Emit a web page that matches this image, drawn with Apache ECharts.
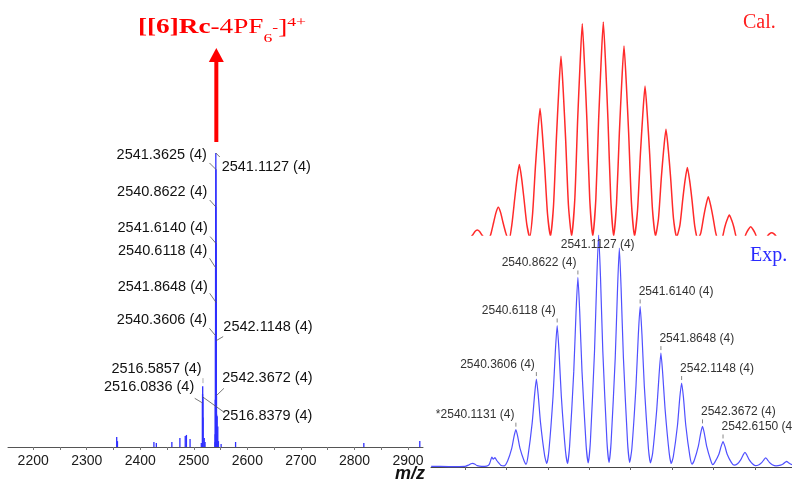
<!DOCTYPE html>
<html><head><meta charset="utf-8">
<script src="https://cdn.jsdelivr.net/npm/echarts@6/dist/echarts.min.js"></script>
<style>html,body{margin:0;padding:0;background:#fff}#c{width:792px;height:480px}</style>
</head><body><div id="c"></div>
<script>
// ================= DATA =================
// Left overview spectrum: x-axis ticks
const leftTickLabels = [2200, 2300, 2400, 2500, 2600, 2700, 2800, 2900];
const leftTickMarks = [2200, 2250, 2300, 2350, 2400, 2450, 2500, 2550, 2600, 2650, 2700, 2750, 2800, 2850, 2900];
// Left overview spectrum: minor sticks (m/z, relative intensity %)
const otherStickMz  = [2356.0, 2357.4, 2425.5, 2430.0, 2459.0, 2474.0, 2484.0, 2486.2, 2493.0, 2514.0, 2516.0836, 2516.3350, 2516.5857, 2516.8379, 2517.09, 2519.5, 2521.0, 2543.6, 2544.8, 2546.0, 2551.0, 2578.0, 2817.5, 2922.0];
const otherStickInt = [3.4, 2.0, 1.7, 1.4, 1.7, 3.1, 3.7, 4.1, 2.7, 1.4, 15, 18, 20.7, 17, 10, 3.1, 1.7, 10.5, 7, 2.0, 1.0, 1.7, 1.4, 2.0];
// Isotope cluster of [[6]Rc-4PF6]4+ (experimental centroids)
const expPeakMz  = [2539.592, 2539.822, 2540.1131, 2540.3606, 2540.6118, 2540.8622, 2541.1127, 2541.3625, 2541.6140, 2541.8648, 2542.1148, 2542.3672, 2542.6150, 2542.880, 2543.130, 2543.384];
const expPeakInt = [1.6, 4.3, 16.1, 37.9, 61.0, 81.7, 100, 94.4, 69.2, 49.1, 36.2, 17.5, 11.0, 6.3, 3.9, 2.4];

// Left panel annotations
const leftLabelText = ['2541.3625 (4)', '2540.8622 (4)', '2541.6140 (4)', '2540.6118 (4)', '2541.8648 (4)', '2540.3606 (4)', '2541.1127 (4)', '2542.1148 (4)', '2542.3672 (4)', '2516.5857 (4)', '2516.0836 (4)', '2516.8379 (4)'];
const leftLabelMz   = [2541.3625, 2540.8622, 2541.6140, 2540.6118, 2541.8648, 2540.3606, 2541.1127, 2542.1148, 2542.3672, 2516.5857, 2516.0836, 2516.8379];
const leftLabelInt  = [94.4, 81.7, 69.2, 61.0, 49.1, 37.9, 100, 36.2, 17.5, 20.7, 15, 17];

// Right (zoomed) panel annotations
const expLabelText = ['*2540.1131 (4)', '2540.3606 (4)', '2540.6118 (4)', '2540.8622 (4)', '2541.1127 (4)', '2541.6140 (4)', '2541.8648 (4)', '2542.1148 (4)', '2542.3672 (4)', '2542.6150 (4)'];
const expLabelMz   = [2540.1131, 2540.3606, 2540.6118, 2540.8622, 2541.1127, 2541.6140, 2541.8648, 2542.1148, 2542.3672, 2542.6150];
const expLabelInt  = [16.1, 37.9, 61.0, 81.7, 100, 69.2, 49.1, 36.2, 17.5, 11.0];
const expTicks = [2539.5, 2540.0, 2540.5, 2541.0, 2541.5, 2542.0, 2542.5, 2543.0];

// Experimental profile (m/z, relative intensity %)
const expProfile = [
[2539.09,0.3],[2539.30,0.2],[2539.50,0.3],[2539.54,0.8],[2539.57,1.4],[2539.592,1.6],[2539.615,1.3],[2539.645,0.6],[2539.70,0.3],
[2539.76,0.4],[2539.79,1.0],[2539.81,3.0],[2539.822,4.3],[2539.84,3.4],[2539.86,4.0],[2539.882,2.8],[2539.90,2.0],[2539.93,0.8],[2539.97,0.5],
[2540.013,2.6],[2540.063,8.0],[2540.091,13.2],[2540.1131,16.1],[2540.135,13.2],[2540.163,8.0],[2540.213,2.6],[2540.237,1.2],
[2540.26,4.8],[2540.31,19.0],[2540.339,31.0],[2540.3606,37.9],[2540.383,31.0],[2540.411,19.0],[2540.461,4.8],[2540.486,1.5],
[2540.512,7.0],[2540.562,30.5],[2540.590,50.0],[2540.6118,61.0],[2540.634,50.0],[2540.662,30.5],[2540.712,7.0],[2540.737,1.5],
[2540.762,9.0],[2540.812,41.0],[2540.840,67.0],[2540.8622,81.7],[2540.884,67.0],[2540.912,41.0],[2540.962,9.0],[2540.987,1.8],
[2541.013,11.0],[2541.063,50.0],[2541.091,82.0],[2541.1127,100],[2541.135,82.0],[2541.163,50.0],[2541.213,11.0],[2541.238,2.0],
[2541.263,10.5],[2541.313,47.0],[2541.341,77.0],[2541.3625,94.4],[2541.384,77.0],[2541.412,47.0],[2541.462,10.5],[2541.488,2.0],
[2541.514,8.0],[2541.564,35.0],[2541.592,57.0],[2541.614,69.2],[2541.636,57.0],[2541.664,35.0],[2541.714,8.0],[2541.739,1.8],
[2541.765,6.0],[2541.815,25.0],[2541.843,40.0],[2541.8648,49.1],[2541.887,40.0],[2541.915,25.0],[2541.965,6.0],[2541.990,1.5],
[2542.015,4.6],[2542.065,18.0],[2542.093,30.0],[2542.1148,36.2],[2542.137,30.0],[2542.165,18.0],[2542.215,4.6],[2542.241,1.2],
[2542.267,2.8],[2542.317,9.0],[2542.345,14.5],[2542.3672,17.5],[2542.389,14.5],[2542.417,9.0],[2542.467,2.8],[2542.491,1.0],
[2542.515,2.0],[2542.565,5.5],[2542.593,9.0],[2542.615,11.0],[2542.637,9.0],[2542.665,5.5],[2542.715,2.0],[2542.748,0.8],
[2542.79,1.4],[2542.83,3.2],[2542.858,5.2],[2542.88,6.3],[2542.902,5.2],[2542.93,3.2],[2542.97,1.4],[2543.005,0.6],
[2543.05,1.0],[2543.085,2.0],[2543.11,3.2],[2543.13,3.9],[2543.15,3.2],[2543.175,2.0],[2543.21,1.0],[2543.255,0.5],
[2543.31,0.8],[2543.34,1.3],[2543.365,2.0],[2543.384,2.4],[2543.40,2.0],[2543.43,1.3],[2543.448,1.0]
];

// Calculated profile (m/z, relative intensity %)
const calProfile = [
[2539.09,-4],[2539.52,-3],[2539.557,-1.5],[2539.591,0.0],[2539.619,1.6],[2539.647,2.3],[2539.675,1.6],[2539.703,0.0],[2539.737,-1.5],[2539.774,-2.5],
[2539.811,0.5],[2539.845,6.0],[2539.873,10.5],[2539.901,13.0],[2539.929,10.5],[2539.957,6.0],[2539.991,1.0],[2540.028,-3],
[2540.065,5],[2540.099,17],[2540.127,26.5],[2540.155,33.1],[2540.183,26.5],[2540.211,17],[2540.245,5],[2540.28,-1],
[2540.315,10],[2540.349,32],[2540.377,47.5],[2540.405,59.4],[2540.433,47.5],[2540.461,32],[2540.495,10],[2540.531,-0.5],
[2540.568,14],[2540.602,45],[2540.63,67],[2540.658,83.9],[2540.686,67],[2540.714,45],[2540.748,14],[2540.786,-0.5],
[2540.825,17],[2540.859,54],[2540.887,79],[2540.915,99.2],[2540.943,79],[2540.971,54],[2541.005,17],[2541.042,-0.5],
[2541.079,17],[2541.113,54.5],[2541.141,80],[2541.169,100],[2541.197,80],[2541.225,54.5],[2541.259,17],[2541.294,-0.5],
[2541.329,15],[2541.363,48],[2541.391,71],[2541.419,88.7],[2541.447,71],[2541.475,48],[2541.509,15],[2541.546,-0.5],
[2541.583,12],[2541.617,38],[2541.645,56],[2541.673,69.9],[2541.701,56],[2541.729,38],[2541.763,12],[2541.80,-0.5],
[2541.836,8],[2541.87,27],[2541.898,40],[2541.926,49.6],[2541.954,40],[2541.982,27],[2542.016,8],[2542.055,-1],
[2542.094,4.5],[2542.128,16.5],[2542.156,25.5],[2542.184,31.7],[2542.212,25.5],[2542.24,16.5],[2542.274,4],[2542.31,-2],
[2542.347,1],[2542.381,8.5],[2542.409,14],[2542.437,18],[2542.465,14],[2542.493,8.5],[2542.527,1],[2542.564,-3],
[2542.601,-2],[2542.635,3.5],[2542.663,7],[2542.691,9.4],[2542.719,7],[2542.747,3.5],[2542.781,-2],[2542.82,-4],
[2542.859,-3],[2542.893,0.6],[2542.921,2.6],[2542.949,3.9],[2542.977,2.6],[2543.005,0.6],[2543.039,-3],[2543.076,-4],
[2543.113,-3],[2543.147,-0.8],[2543.175,0.5],[2543.203,1.1],[2543.231,0.5],[2543.259,-0.8],[2543.293,-3],[2543.448,-4]
];

// ================= LAYOUT (pixel offsets, not data) =================
// [textDx, textDy, align, leaderStartDx, leaderStartDy, leaderEndDx, leaderEndDy]
const leftLayout = [
 [-9.1,-14.5,'right',0,0,-6.5,-6.5],
 [-8.3,-15.1,'right',0,0,-6,-6.8],
 [-8.3,-15.3,'right',0,0,-6,-7],
 [-8.3,-16.7,'right',0,0,-6,-9.4],
 [-8.3,-15.9,'right',0,0,-6.5,-9.3],
 [-8.3,-15.6,'right',0,0,-6,-7.3],
 [5.8,14.3,'left',0,0,4,4],
 [7.0,-13.3,'left',0,0,6.8,-4],
 [5.8,-17.2,'left',0,0,7.4,-7.2],
 [-1,-16.7,'right',0.3,-8,0.3,-3],
 [-8.2,-15.6,'right',0,0,-7.7,-4.6],
 [19.3,19,'left',0,0,20.5,14.7]
];
// [align, dx, dy, showTick]
const expLayout = [
 ['right',-1.5,-14.5,true],['right',-1.5,-14.5,true],['right',-1.5,-14.5,true],['right',-1.5,-14.5,true],
 ['center',-1,10,false],
 ['left',-1.5,-14.5,true],['left',-1.5,-14.5,true],['left',-1.5,-14.5,true],['left',-1.5,-14.5,true],['left',-1.5,-14.5,true]
];

const SANS = '"Liberation Sans", Arial, sans-serif';
const SERIF = '"Liberation Serif", "Times New Roman", serif';

const stickData = otherStickMz.map((m, i) => [m, otherStickInt[i]])
  .concat(expPeakMz.map((m, i) => [m, expPeakInt[i]]));

const chart = echarts.init(document.getElementById('c'), null, {renderer: 'canvas', width: 792, height: 480});

chart.setOption({
  animation: false,
  backgroundColor: '#ffffff',
  grid: [
    {left: 8, right: 369, top: 153, bottom: 33},
    {left: 431, right: 0, top: 22, bottom: 245},
    {left: 431, right: 0, top: 235, bottom: 13}
  ],
  xAxis: [
    {gridIndex: 0, type: 'value', min: 2153, max: 2928,
     axisLine: {lineStyle: {color: '#555', width: 1}},
     axisTick: {show: true, customValues: leftTickMarks, length: 3, lineStyle: {color: '#777'}},
     axisLabel: {customValues: leftTickLabels, fontSize: 14, color: '#1a1a1a', fontFamily: SANS, margin: 7,
                 formatter: function (v) { return String(Math.round(v)); }},
     splitLine: {show: false}},
    {gridIndex: 1, type: 'value', min: 2539.088, max: 2543.448, show: false},
    {gridIndex: 2, type: 'value', min: 2539.088, max: 2543.448,
     axisLine: {lineStyle: {color: '#444', width: 1}},
     axisTick: {show: true, customValues: expTicks, length: 3, lineStyle: {color: '#666'}},
     axisLabel: {show: false}, splitLine: {show: false}}
  ],
  yAxis: [
    {gridIndex: 0, type: 'value', min: 0, max: 100, show: false},
    {gridIndex: 1, type: 'value', min: 0, max: 100, show: false},
    {gridIndex: 2, type: 'value', min: 0, max: 100, show: false}
  ],
  series: [
    {type: 'custom', xAxisIndex: 0, yAxisIndex: 0, data: stickData,
     renderItem: function (params, api) {
       const p0 = api.coord([api.value(0), 0]);
       const p1 = api.coord([api.value(0), api.value(1)]);
       return {type: 'line', shape: {x1: p0[0], y1: p0[1], x2: p1[0], y2: p1[1]},
               style: {stroke: '#2f2fff', lineWidth: 1.3}};
     }},
    {type: 'line', xAxisIndex: 1, yAxisIndex: 1, data: calProfile, showSymbol: false, smooth: 0.2,
     lineStyle: {color: '#ff2a2a', width: 1.5}, clip: true},
    {type: 'line', xAxisIndex: 2, yAxisIndex: 2, data: expProfile, showSymbol: false, smooth: 0.2,
     lineStyle: {color: '#5050ff', width: 1.2}, clip: false}
  ]
});

function px(g, pt) { return chart.convertToPixel({gridIndex: g}, pt); }

const graphics = [];
// left-panel labels and leader lines
leftLabelText.forEach((t, i) => {
  const a = px(0, [leftLabelMz[i], leftLabelInt[i]]);
  const L = leftLayout[i];
  graphics.push({type: 'text', x: a[0] + L[0], y: a[1] + L[1], z: 10,
    style: {text: t, fontSize: 14.5, fontFamily: SANS, fill: '#111', align: L[2], verticalAlign: 'middle'}});
  graphics.push({type: 'line', z: 9, shape: {x1: a[0] + L[3], y1: a[1] + L[4], x2: a[0] + L[5], y2: a[1] + L[6]},
    style: {stroke: i === 9 ? '#999' : '#555', lineWidth: 0.8}});
});
// right-panel labels and ticks
expLabelText.forEach((t, i) => {
  const a = px(2, [expLabelMz[i], expLabelInt[i]]);
  const L = expLayout[i];
  graphics.push({type: 'text', x: a[0] + L[1], y: a[1] + L[2], z: 10,
    style: {text: t, fontSize: 12, fontFamily: SANS, fill: '#333', align: L[0], verticalAlign: 'middle'}});
  if (L[3]) graphics.push({type: 'line', z: 9, shape: {x1: a[0], y1: a[1] - 7, x2: a[0], y2: a[1] - 3},
    style: {stroke: '#888', lineWidth: 1}});
});
// arrow pointing to the main peak
const mainTop = px(0, [2541.1127, 100]);
const ax = mainTop[0] + 0.5;
graphics.push({type: 'rect', shape: {x: ax - 2, y: 61, width: 4, height: 81}, style: {fill: '#ff0000'}});
graphics.push({type: 'polygon', shape: {points: [[ax, 48], [ax - 7.5, 62], [ax + 7.5, 62]]}, style: {fill: '#ff0000'}});
// title
graphics.push({type: 'text', x: 138, y: 11, scaleX: 1.36, z: 10,
  style: {text: '{b|[[6]Rc}{r|-4PF}{sub|6}{supm|-}{r|]}{sup|4+}', align: 'left', verticalAlign: 'top',
    rich: {
      b: {fontSize: 20, fontWeight: 'bold', fontFamily: SERIF, fill: '#ff0000', lineHeight: 34, verticalAlign: 'middle'},
      r: {fontSize: 20, fontFamily: SERIF, fill: '#ff0000', lineHeight: 34, verticalAlign: 'middle'},
      sub: {fontSize: 13, fontFamily: SERIF, fill: '#ff0000', lineHeight: 14, verticalAlign: 'bottom'},
      supm: {fontSize: 13, fontFamily: SERIF, fill: '#ff0000', verticalAlign: 'top', padding: [11, 0, 0, 0]},
      sup: {fontSize: 13, fontFamily: SERIF, fill: '#ff0000', verticalAlign: 'top', padding: [5, 0, 0, 0]}
    }}});
graphics.push({type: 'text', x: 743, y: 22.5, style: {text: 'Cal.', fontSize: 20, fontFamily: SERIF, fill: '#ff2020', verticalAlign: 'middle'}});
graphics.push({type: 'text', x: 750, y: 256, style: {text: 'Exp.', fontSize: 20, fontFamily: SERIF, fill: '#2a2aff', verticalAlign: 'middle'}});
graphics.push({type: 'text', x: 395, y: 474, style: {text: 'm/z', fontSize: 18, fontWeight: 'bold', fontStyle: 'italic', fontFamily: SANS, fill: '#111', verticalAlign: 'middle'}});

chart.setOption({graphic: graphics});
</script>
</body></html>
